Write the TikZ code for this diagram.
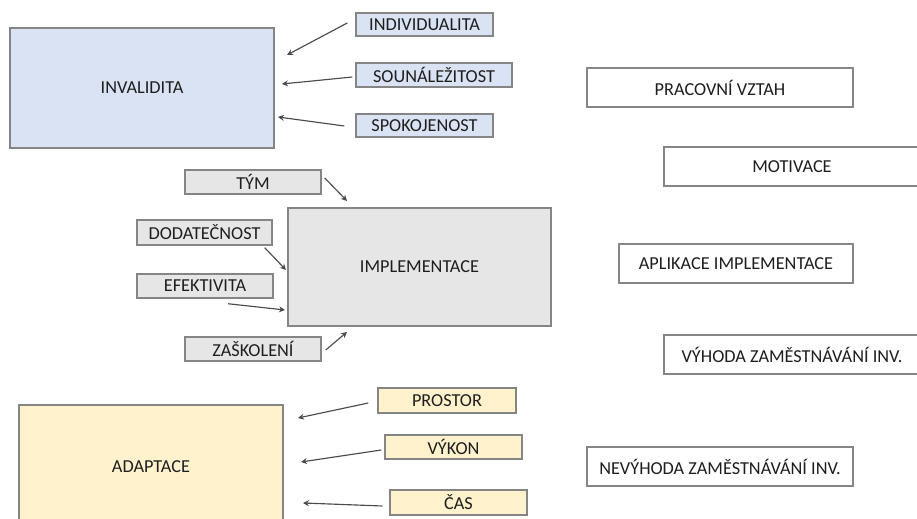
\documentclass[tikz,border=0pt]{standalone}
\usepackage{fontspec}
\setmainfont{Carlito}
\usepackage{tikz}
\usetikzlibrary{arrows.meta,positioning}
\definecolor{fillblue}{HTML}{DAE3F3}
\definecolor{fillgray}{HTML}{E7E6E6}
\definecolor{fillyellow}{HTML}{FFF2CC}
\definecolor{edgegray}{HTML}{858585}
\definecolor{textgray}{HTML}{1E1E1E}
\definecolor{arrowgray}{HTML}{4A4A4A}

\begin{document}
\begin{tikzpicture}[x=0.02cm, y=-0.02cm,
    box/.style={draw=edgegray, line width=0.85pt, rectangle, inner sep=0pt, text=textgray, font=\fontsize{10.4}{12}\selectfont},
    tagbox/.style={box, minimum width=2.74cm, minimum height=0.48cm},
    sidebox/.style={box, fill=white, minimum height=0.78cm},
    arr/.style={-{Stealth[length=3.4pt,width=3.4pt]}, arrowgray, line width=0.65pt}]
\useasboundingbox (0,0) rectangle (917,519);
\fill[white] (0,0) rectangle (917,519);
\clip (0,0) rectangle (917,519);

% Main boxes
\node[box, fill=fillblue, minimum width=5.28cm, minimum height=2.4cm] (inv) at (142,88) {INVALIDITA};
\node[box, fill=fillgray, minimum width=5.26cm, minimum height=2.36cm] (impl) at (419.5,267) {IMPLEMENTACE};
\node[box, fill=fillyellow, minimum width=5.28cm, minimum height=2.48cm] (ada) at (151,467) {ADAPTACE};

% Invalidita factors
\node[tagbox, fill=fillblue, minimum height=0.46cm] (ind) at (424.5,24.5) {INDIVIDUALITA};
\node[tagbox, fill=fillblue, minimum width=3.12cm] (sou) at (434,75) {SOUNÁLEŽITOST};
\node[tagbox, fill=fillblue, minimum height=0.46cm] (spo) at (424.5,125.5) {SPOKOJENOST};

% Implementace factors
\node[tagbox, fill=fillgray, minimum width=2.72cm] (tym) at (253,182) {TÝM};
\node[tagbox, fill=fillgray, minimum width=2.7cm, minimum height=0.5cm] (dod) at (204.5,232.5) {DODATEČNOST};
\node[tagbox, fill=fillgray, minimum width=2.72cm] (efe) at (205,286) {EFEKTIVITA};
\node[tagbox, fill=fillgray, minimum width=2.72cm] (zas) at (253,349) {ZAŠKOLENÍ};

% Adaptace factors
\node[tagbox, fill=fillyellow, minimum width=2.76cm, minimum height=0.5cm] (pro) at (447,400.5) {PROSTOR};
\node[tagbox, fill=fillyellow] (vyk) at (453.5,447) {VÝKON};
\node[tagbox, fill=fillyellow, minimum height=0.5cm] (cas) at (458.5,502.5) {ČAS};

% Right column
\node[sidebox, minimum width=5.32cm] (prac) at (720,87.5) {PRACOVNÍ VZTAH};
\node[sidebox, minimum width=5.12cm] (mot) at (792,166.5) {MOTIVACE};
\node[sidebox, minimum width=4.68cm] (apl) at (736,263.5) {APLIKACE IMPLEMENTACE};
\node[sidebox, minimum width=5.12cm] (vyh) at (792,354.5) {VÝHODA ZAMĚSTNÁVÁNÍ INV.};
\node[sidebox, minimum width=5.32cm] (nev) at (720,466.5) {NEVÝHODA ZAMĚSTNÁVÁNÍ INV.};

% Arrow tips
\coordinate (ind-tip) at (287,55);
\coordinate (sou-tip) at (282,84);
\coordinate (spo-tip) at (278,117);
\coordinate (tym-tip) at (347,201);
\coordinate (dod-tip) at (286,270);
\coordinate (efe-tip) at (285,310);
\coordinate (zas-tip) at (347,332);
\coordinate (pro-tip) at (298,418);
\coordinate (vyk-tip) at (301,462);
\coordinate (cas-tip) at (303,503);

% Arrows
\draw[arr] ([shift={(-8,-1.5)}]ind.west) -- (ind-tip);
\draw[arr] ([shift={(-3,2)}]sou.west) -- (sou-tip);
\draw[arr] ([shift={(-11,0.5)}]spo.west) -- (spo-tip);
\draw[arr] ([shift={(3,-4)}]tym.east) -- (tym-tip);
\draw[arr] ([shift={(-8,2)}]dod.south east) -- (dod-tip);
\draw[arr] ([shift={(23,5)}]efe.south) -- (efe-tip);
\draw[arr] ([shift={(4,1)}]zas.east) -- (zas-tip);
\draw[arr] ([shift={(-9,2.5)}]pro.west) -- (pro-tip);
\draw[arr] ([shift={(-3,3)}]vyk.west) -- (vyk-tip);
\draw[arr] ([shift={(-7,3.5)}]cas.west) -- (cas-tip);
\end{tikzpicture}
\end{document}
